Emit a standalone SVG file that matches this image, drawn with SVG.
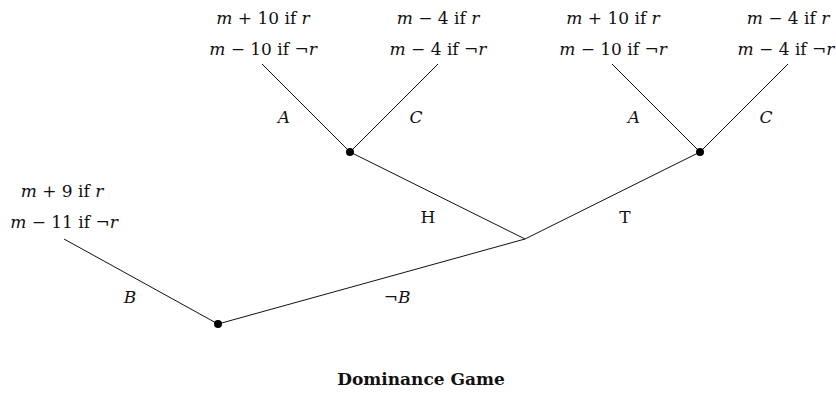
<svg xmlns="http://www.w3.org/2000/svg" width="836" height="394" viewBox="0 0 836 394">
<style>
.i{font-style:italic}
.e{stroke:#111;stroke-width:1;fill:none}
.dot{fill:#000}
.t{font-weight:bold;font-size:17px}
</style>
<rect width="836" height="394" fill="#fff"/>
<g font-family="DejaVu Serif, serif" font-size="17" fill="#111" text-anchor="middle">
<g id="connectors">
<line class="e" x1="262" y1="64" x2="350" y2="152"/>
<line class="e" x1="438" y1="64" x2="350" y2="152"/>
<line class="e" x1="612" y1="64" x2="700" y2="152"/>
<line class="e" x1="788" y1="64" x2="700" y2="152"/>
<line class="e" x1="350" y1="152" x2="525" y2="239"/>
<line class="e" x1="700" y1="152" x2="525" y2="239"/>
<line class="e" x1="525" y1="239" x2="218" y2="324"/>
<line class="e" x1="218" y1="324" x2="64" y2="239"/>
<text class="i" x="284" y="123">A</text>
<text class="i" x="416" y="123">C</text>
<text class="i" x="634" y="123">A</text>
<text class="i" x="766" y="123">C</text>
<text x="428" y="223">H</text>
<text x="625" y="223">T</text>
<text class="i" x="130" y="303">B</text>
<text x="397" y="303">¬<tspan class="i">B</tspan></text>
</g>
<g id="n_root"><circle cx="218" cy="324" r="0.1" fill="none"/></g>
<g id="n_chance"><circle cx="525" cy="239" r="0.1" fill="none"/></g>
<g id="n_h"><circle class="dot" cx="350" cy="152" r="4"/></g>
<g id="n_t"><circle class="dot" cx="700" cy="152" r="4"/></g>
<g id="n_b"><circle class="dot" cx="218" cy="324" r="4"/></g>
<g id="leaf_ha">
<text x="263" y="24"><tspan class="i">m</tspan> + 10 if <tspan class="i">r</tspan></text>
<text x="263" y="55"><tspan class="i">m</tspan> − 10 if ¬<tspan class="i">r</tspan></text>
</g>
<g id="leaf_hc">
<text x="438" y="24"><tspan class="i">m</tspan> − 4 if <tspan class="i">r</tspan></text>
<text x="438" y="55"><tspan class="i">m</tspan> − 4 if ¬<tspan class="i">r</tspan></text>
</g>
<g id="leaf_ta">
<text x="613" y="24"><tspan class="i">m</tspan> + 10 if <tspan class="i">r</tspan></text>
<text x="613" y="55"><tspan class="i">m</tspan> − 10 if ¬<tspan class="i">r</tspan></text>
</g>
<g id="leaf_tc">
<text x="788" y="24"><tspan class="i">m</tspan> − 4 if <tspan class="i">r</tspan></text>
<text x="786" y="55"><tspan class="i">m</tspan> − 4 if ¬<tspan class="i">r</tspan></text>
</g>
<g id="leaf_b">
<text x="62" y="197"><tspan class="i">m</tspan> + 9 if <tspan class="i">r</tspan></text>
<text x="64" y="228"><tspan class="i">m</tspan> − 11 if ¬<tspan class="i">r</tspan></text>
</g>
<text class="t" x="421" y="385">Dominance Game</text>
</g>
</svg>
